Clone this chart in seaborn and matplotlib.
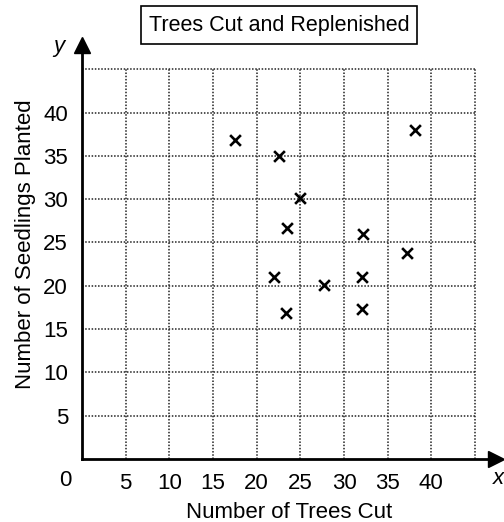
import numpy as np
import pandas as pd
import seaborn as sns
from matplotlib import pyplot as plt

# values
trees_cut = [17.5, 22.6, 25.0, 23.5, 32.2, 37.2, 22.0, 27.7, 32.1, 23.3, 32.1, 38.1]
seedlings = [36.8, 35.0, 30.1, 26.7, 26.0, 23.8, 21.0, 20.1, 21.0, 16.9, 17.3, 38.0]
tick_values = [5, 10, 15, 20, 25, 30, 35, 40]
grid_values = [5, 10, 15, 20, 25, 30, 35, 40, 45]

df = pd.DataFrame({"Number of Trees Cut": trees_cut,
                   "Number of Seedlings Planted": seedlings})

sns.set_style("white")
plt.rcParams['font.family'] = ['Liberation Sans', 'DejaVu Sans']
for key in ["text.color", "axes.labelcolor", "xtick.color", "ytick.color"]:
    plt.rcParams[key] = "black"

FS = 16

fig = plt.figure(figsize=(5.04, 5.22), dpi=100)
ax = fig.add_axes([82 / 504, 63 / 522, 414 / 504, 414 / 522])
ax.set_xlim(0, 47.4)
ax.set_ylim(0, 47.8)

# dotted grid, only up to 45 on each side
grid_kw = dict(color="#222222", linewidth=1.1, linestyle=(0, (1, 1.1)), zorder=1)
ax.vlines(grid_values, 0, 45, **grid_kw)
ax.hlines(grid_values, 0, 45, **grid_kw)

sns.scatterplot(data=df, x="Number of Trees Cut", y="Number of Seedlings Planted",
                marker="x", color="black", s=60, linewidth=1.9, ax=ax, zorder=3)

# axes with arrow heads
for side in ["top", "right"]:
    ax.spines[side].set_visible(False)
for side in ["left", "bottom"]:
    ax.spines[side].set_linewidth(2)
    ax.spines[side].set_color("black")
ax.plot(0, 47.8, marker="^", color="black", markersize=11.5, clip_on=False, zorder=4)
ax.plot(47.4, 0, marker=">", color="black", markersize=11.5, clip_on=False, zorder=4)

ax.set_xticks(tick_values)
ax.set_yticks(tick_values)
ax.set_xticklabels([str(v) for v in tick_values])
ax.set_yticklabels([str(v) for v in tick_values])
ax.tick_params(axis="both", length=0, labelsize=FS)
ax.tick_params(axis="x", pad=10)
ax.tick_params(axis="y", pad=10)

ax.annotate("0", xy=(0, 0), xytext=(-17, -21), textcoords="offset pixels",
            ha="center", va="center", fontsize=FS)
ax.annotate("y", xy=(0, 47.8), xytext=(-23, -2), textcoords="offset pixels",
            ha="center", va="center", fontsize=FS, style="italic")
ax.annotate("x", xy=(47.4, 0), xytext=(2, -20), textcoords="offset pixels",
            ha="center", va="center", fontsize=FS, style="italic", annotation_clip=False)

ax.set_xlabel("Number of Trees Cut", fontsize=FS)
ax.set_ylabel("Number of Seedlings Planted", fontsize=FS)
ax.xaxis.set_label_coords(0.5, -43 / 414)
ax.yaxis.set_label_coords(-46 / 414, 0.52)

fig.text(279 / 504, 1 - 25 / 522, "Trees Cut and Replenished", fontsize=15.5,
         ha="center", va="center",
         bbox=dict(boxstyle="square,pad=0.38", facecolor="white", edgecolor="black", linewidth=1.2))

fig.savefig("out.png", dpi=100)
